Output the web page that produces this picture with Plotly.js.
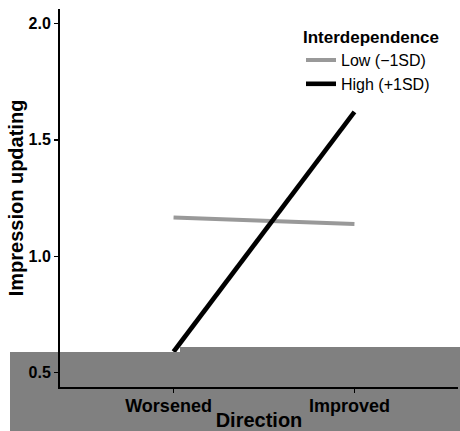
<!DOCTYPE html>
<html><head><meta charset="utf-8">
<script src="https://cdn.plot.ly/plotly-3.0.1.min.js"></script>
<style>html,body{margin:0;padding:0;background:#fff}#chart{width:460px;height:431px}</style>
</head><body><div id="chart"></div>
<script>
// ---- data ----
const directions = ['Worsened', 'Improved'];
const seriesNames = ['Low (\u22121SD)', 'High (+1SD)'];
const lowValues = [1.167, 1.139];
const highValues = [0.59, 1.62];
const yTickValues = [0.5, 1.0, 1.5, 2.0];
const yTickLabels = ['0.5', '1.0', '1.5', '2.0'];
const legendTitle = 'Interdependence';
const xTitle = 'Direction';
const yTitle = 'Impression updating';

// ---- layout helpers ----
const W = 460, H = 431;
const M = {l: 60, r: 2, t: 9, b: 44};
const PW = W - M.l - M.r, PH = H - M.t - M.b;
const px = x => (x - M.l) / PW;
const py = y => (H - M.b - y) / PH;
const FONT = 'Liberation Sans, Arial, Helvetica, sans-serif';
const BOX = '#808080';
const shift = 5 / PW * 2.2;

const traces = [
  {x: directions, y: lowValues, name: seriesNames[0], type: 'scatter', mode: 'lines',
   line: {color: '#999999', width: 4}},
  {x: directions, y: highValues, name: seriesNames[1], type: 'scatter', mode: 'lines',
   line: {color: '#000000', width: 4.6}}
];

function rect(layer, x0, x1, y0, y1) {
  return {type: 'rect', layer: layer, xref: 'paper', yref: 'paper',
          x0: x0, x1: x1, y0: y0, y1: y1, fillcolor: BOX, line: {width: 0}};
}

const layout = {
  width: W, height: H,
  margin: M,
  paper_bgcolor: '#ffffff',
  plot_bgcolor: 'rgba(0,0,0,0)',
  font: {family: FONT, color: '#000000'},
  showlegend: true,
  legend: {
    x: px(301), y: py(21), xanchor: 'left', yanchor: 'top',
    bgcolor: 'rgba(0,0,0,0)', borderwidth: 0,
    title: {text: legendTitle, font: {family: FONT, size: 17, weight: 'bold', color: '#000'}},
    font: {family: FONT, size: 16, color: '#000'},
    tracegroupgap: 0
  },
  xaxis: {
    type: 'category', range: [-0.6 - shift, 1.6 - shift],
    showline: true, linecolor: '#000', linewidth: 2,
    ticks: 'outside', ticklen: 4, tickwidth: 1.5, tickcolor: '#000',
    ticklabelshift: -5, ticklabelstandoff: -3,
    tickfont: {family: FONT, size: 18, weight: 'bold', color: '#000'},
    showgrid: false, zeroline: false, fixedrange: true,
    title: {text: xTitle, font: {family: FONT, size: 20, weight: 'bold', color: '#000'}, standoff: 0}
  },
  yaxis: {
    range: [0.4386, 2.062],
    tickvals: yTickValues, ticktext: yTickLabels,
    showline: true, linecolor: '#000', linewidth: 2,
    ticks: 'outside', ticklen: 4, tickwidth: 1.5, tickcolor: '#000',
    tickfont: {family: FONT, size: 16, weight: 'bold', color: '#000'},
    showgrid: false, zeroline: false, fixedrange: true,
    title: {text: yTitle, font: {family: FONT, size: 20, weight: 'bold', color: '#000'}, standoff: 0}
  },
  shapes: [
    rect('below', px(10), px(180), py(440), py(352)),
    rect('below', px(180), px(465), py(440), py(347)),
    rect('above', 0, px(180), 0, py(352)),
    rect('above', px(180), 1, 0, py(347))
  ]
};

Plotly.newPlot('chart', traces, layout, {staticPlot: true, displayModeBar: false});
</script>
</body></html>
